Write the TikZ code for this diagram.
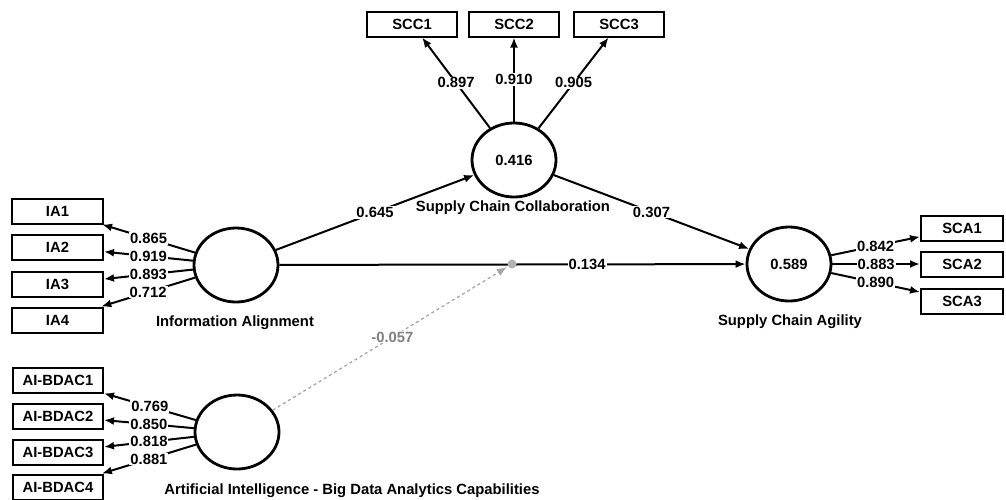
\documentclass[tikz,border=0pt]{standalone}
\usepackage{fontspec}
\setmainfont{Liberation Sans}
\usetikzlibrary{arrows.meta,shapes.geometric}

\begin{document}
\begin{tikzpicture}[x=1pt,y=-1pt,
  font=\fontsize{14.8}{17}\selectfont\bfseries,
  lv/.style={ellipse,draw,line width=2.8pt,minimum width=84pt,minimum height=74pt,inner sep=0pt},
  mv/.style={rectangle,draw,line width=2pt,minimum height=25pt,inner sep=0pt},
  link/.style={line width=2pt,-{Latex[length=10pt,width=8pt]}},
  coef/.style={fill=white,inner sep=1pt}]
  \useasboundingbox (0,0) rectangle (1006,499);
%
  \node[lv] (ia) at (236,265) {};
  \node[lv] (ai) at (237,432) {};
  \node[lv] (scc) at (514,160) {0.416};
  \node[lv] (sca) at (789,264) {0.589};
  \coordinate (mod) at (512,264);
  \node (ialab) at (235,323) {Information Alignment};
  \node (ailab) at (352,491) {Artificial Intelligence - Big Data Analytics Capabilities};
  \node (scclab) at (513,208) {Supply Chain Collaboration};
  \node (scalab) at (790,322) {Supply Chain Agility};
%
  \foreach \i/\y in {1/211,2/247,3/284,4/320}
    \node[mv,minimum width=91pt] (ia\i) at (57.5,\y) {IA\i};
  \foreach \i/\y in {1/380,2/416,3/452,4/487}
    \node[mv,minimum width=90pt] (ai\i) at (58,\y) {AI-BDAC\i};
  \foreach \i/\x in {1/412,2/514,3/619}
    \node[mv,minimum width=90pt] (scc\i) at (\x,24) {SCC\i};
  \foreach \i/\y in {1/228,2/264,3/301}
    \node[mv,minimum width=82pt] (sca\i) at (962,\y) {SCA\i};
%
  \foreach \i/\v in {1/0.865,2/0.919,3/0.893,4/0.712}
    \draw[link] (ia) -- node[coef] {\v} (ia\i);
  \foreach \i/\v in {1/0.769,2/0.850,3/0.818,4/0.881}
    \draw[link] (ai) -- node[coef] {\v} (ai\i);
  \foreach \i/\v in {1/0.897,2/0.910,3/0.905}
    \draw[link] (scc) -- node[coef] {\v} (scc\i);
  \foreach \i/\v in {1/0.842,2/0.883,3/0.890}
    \draw[link] (sca) -- node[coef] {\v} (sca\i);
%
  \draw[link] (ia) -- node[coef] {0.645} (scc);
  \draw[link] (scc) -- node[coef] {0.307} (sca);
  \draw[link] (ia) -- node[coef,pos=0.66] {0.134} (sca);
  \draw[link,gray!70,dashed,line width=1.3pt,shorten >=6pt] (ai) -- node[coef,text=gray] {-0.057} (mod);
  \fill[gray!60] (mod) circle (4.5pt);
\end{tikzpicture}
\end{document}
